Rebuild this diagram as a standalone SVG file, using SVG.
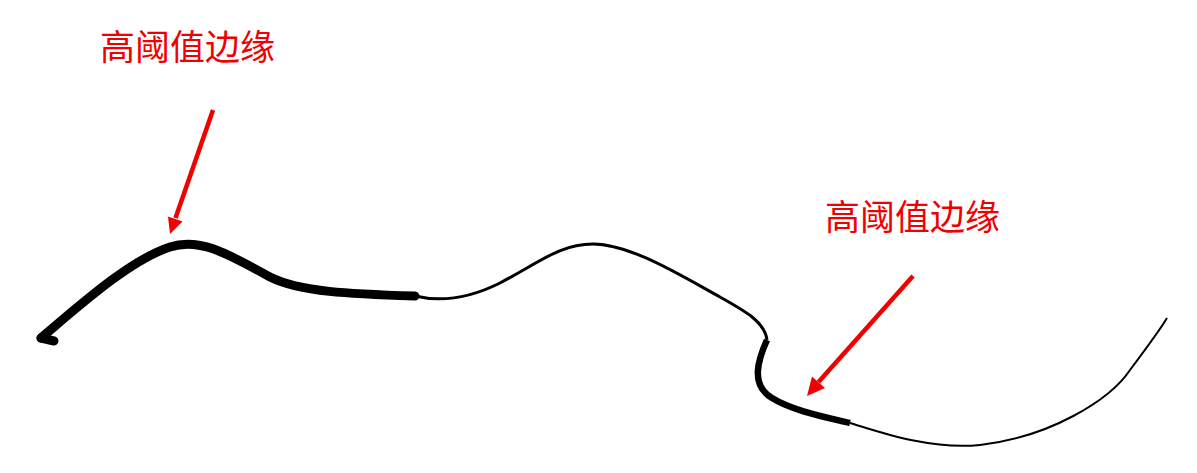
<svg xmlns="http://www.w3.org/2000/svg" width="1197" height="473" viewBox="0 0 1197 473">
<style>
.lbl{font-family:"Noto Sans CJK SC","Noto Sans",sans-serif;font-size:35px;fill:#f00000}
.edge{fill:none;stroke:#000;stroke-linejoin:round}
.arr{stroke:#f00000;stroke-width:4.5;fill:none}
.head{fill:#f00000}
</style>
<rect width="1197" height="473" fill="#fff"/>
<g id="label1"><text class="lbl" x="100" y="60">高阈值边缘</text></g>
<g id="label2"><text class="lbl" x="825" y="230">高阈值边缘</text></g>
<g id="curve">
<path class="edge" d="M41,338 C80,305 130,260 170,247 C200,237 230,255 270,277 C300,292 350,294 415,296" stroke-width="9" stroke-linecap="round"/>
<path class="edge" d="M41,338 L54,341" stroke-width="9" stroke-linecap="round"/>
<path class="edge" d="M415,296 C440,302 470,298 500,283 C540,262 560,244 593,244 C630,244 680,275 720,297 C745,311 765,322 767,340" stroke-width="3"/>
<path class="edge" d="M767,340 C758,360 750,385 772,398 C795,412 830,418 850,423" stroke-width="6.5"/>
<path class="edge" d="M850,423 C880,432 930,450 980,445 C1050,437 1110,400 1130,370 C1145,350 1160,330 1167,318" stroke-width="2"/>
</g>
<g id="connectors">
<line class="arr" x1="213" y1="110" x2="175.5" y2="218"/>
<polygon class="head" points="170,234 182.5,221.5 168,216.5"/>
<line class="arr" x1="913" y1="276" x2="818.5" y2="382"/>
<polygon class="head" points="807,396 825,388 812,376.5"/>
</g>
</svg>
